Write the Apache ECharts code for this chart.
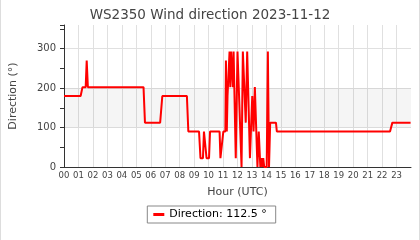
<!DOCTYPE html>
<html>
<head>
<meta charset="utf-8">
<script src="https://cdn.jsdelivr.net/npm/echarts@6/dist/echarts.min.js"></script>
<style>
html,body{margin:0;padding:0;background:#fff;}
#wrap{position:relative;width:420px;height:240px;}
#chart{width:420px;height:240px;}
#frame{position:absolute;left:0;top:0;width:420px;height:240px;box-sizing:border-box;border-left:1px solid #ddd;border-right:1px solid #ddd;pointer-events:none;}
</style>
</head>
<body>
<div id="wrap"><div id="chart"></div><div id="frame"></div></div>
<script>
const titleText = 'WS2350 Wind direction 2023-11-12';
const seriesName = 'Direction: 112.5 °';
const xAxisName = 'Hour (UTC)';
const yAxisName = 'Direction (°)';
const hourTicks = ['00','01','02','03','04','05','06','07','08','09','10','11','12','13','14','15','16','17','18','19','20','21','22','23'];
const hours = [0, 1.15, 1.28, 1.50, 1.57, 1.65, 5.50, 5.60, 6.65, 6.80, 8.50, 8.60,
  9.34, 9.44, 9.61, 9.68, 9.79, 9.86, 10.03, 10.10, 10.76, 10.82, 10.95, 11.02,
  11.16, 11.20, 11.26, 11.31, 11.38, 11.45, 11.50, 11.56, 11.64, 11.68, 11.73, 11.80,
  11.88, 11.93, 12.00, 12.10, 12.28, 12.37, 12.42, 12.57, 12.61, 12.67, 12.75, 12.86,
  12.95, 13.02, 13.11, 13.20, 13.28, 13.38, 13.47, 13.58, 13.66, 13.73, 13.78, 13.85,
  14.02, 14.10, 14.18, 14.26, 14.66, 14.72, 22.55, 22.71, 23.97];
const directions = [180, 180, 202.5, 202.5, 270, 202.5, 202.5, 112.5, 112.5, 180, 180, 90,
  90, 22.5, 22.5, 90, 90, 22.5, 22.5, 90, 90, 22.5, 22.5, 90,
  90, 270, 90, 180, 180, 292.5, 202.5, 292.5, 292.5, 202.5, 292.5, 292.5,
  22.5, 22.5, 292.5, 292.5, 0, 292.5, 292.5, 112.5, 112.5, 292.5, 292.5, 22.5,
  22.5, 180, 90, 202.5, 202.5, 0, 90, 0, 22.5, 0, 22.5, 0,
  0, 292.5, 0, 112.5, 112.5, 90, 90, 112.5, 112.5];
const bandRange = [100, 200];

const data = hours.map((h, i) => [h, directions[i]]);
const chart = echarts.init(document.getElementById('chart'), null, {renderer: 'canvas'});
const font = 'DejaVu Sans';
chart.setOption({
  animation: false,
  textStyle: {fontFamily: font},
  title: {
    text: titleText, left: 'center', top: 3,
    textStyle: {fontFamily: font, fontSize: 13.5, fontWeight: 'normal', color: '#444'}
  },
  grid: {left: 64, right: 9, top: 25, bottom: 73},
  legend: {
    bottom: 17, left: 'center',
    borderColor: '#888', borderWidth: 1, borderRadius: 0,
    padding: [3, 9, 3, 6],
    icon: 'rect', itemWidth: 11, itemHeight: 3, itemGap: 8,
    textStyle: {fontFamily: font, fontSize: 11, color: '#000'},
    data: [seriesName]
  },
  xAxis: {
    type: 'value', min: 0, max: 24, interval: 1,
    name: xAxisName, nameLocation: 'middle', nameGap: 20,
    nameTextStyle: {fontFamily: font, fontSize: 11, color: '#444'},
    axisLine: {show: true, lineStyle: {color: '#333', width: 1}},
    axisTick: {show: false},
    axisLabel: {
      fontFamily: font, fontSize: 8.5, color: '#444', margin: 4,
      formatter: v => (v < 24 ? hourTicks[v] : '')
    },
    splitLine: {show: true, showMaxLine: false, lineStyle: {color: '#e0e0e0', width: 1}}
  },
  yAxis: [{
    type: 'value', min: 0, max: 360, interval: 50,
    name: yAxisName, nameLocation: 'middle', nameGap: 45,
    nameTextStyle: {fontFamily: font, fontSize: 11, color: '#444'},
    axisLine: {show: true, lineStyle: {color: '#333', width: 1}},
    axisTick: {show: true, inside: false, length: 4, lineStyle: {color: '#333'}},
    axisLabel: {
      fontFamily: font, fontSize: 10, color: '#444', margin: 8,
      formatter: v => (v % 100 === 0 ? String(v) : '')
    },
    splitLine: {show: false}
  }, {
    type: 'value', min: 0, max: 360, interval: 100, position: 'left',
    axisLine: {show: false}, axisTick: {show: false}, axisLabel: {show: false},
    splitLine: {show: true, showMinLine: false, showMaxLine: false, lineStyle: {color: '#e0e0e0', width: 1}}
  }],
  series: [{
    name: seriesName, type: 'line', data: data, yAxisIndex: 0,
    showSymbol: false, symbol: 'none',
    lineStyle: {color: '#ff0000', width: 2},
    itemStyle: {color: '#ff0000'},
    markArea: {
      silent: true,
      itemStyle: {color: 'rgba(0,0,0,0.04)'},
      data: [[{yAxis: bandRange[0]}, {yAxis: bandRange[1]}]]
    }
  }]
});
</script>
</body>
</html>
